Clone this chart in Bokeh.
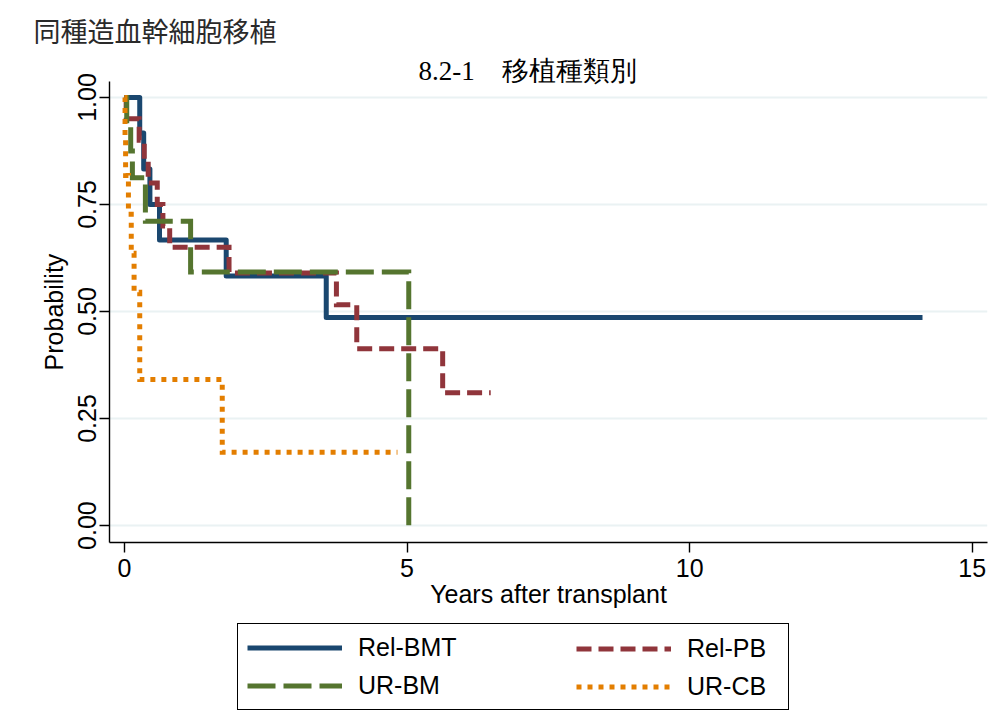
from bokeh.plotting import figure
from bokeh.layouts import column
from bokeh.models import Legend, LegendItem, Title, FixedTicker, Range1d
from bokeh.embed import file_html
from bokeh.resources import INLINE

# ---------------- data ----------------
series_names = ["Rel-BMT", "Rel-PB", "UR-BM", "UR-CB"]

rel_bmt_t = [0.0, 0.27, 0.34, 0.45, 0.62, 1.80, 3.57, 14.12]
rel_bmt_s = [1.0, 0.917, 0.833, 0.750, 0.667, 0.583, 0.486, 0.486]

rel_pb_t = [0.0, 0.03, 0.26, 0.35, 0.42, 0.58, 0.68, 0.80, 1.85, 3.75, 4.11, 5.63, 6.48]
rel_pb_s = [1.0, 0.95, 0.90, 0.85, 0.80, 0.75, 0.70, 0.65, 0.59, 0.516, 0.413, 0.31, 0.31]

ur_bm_t = [0.0, 0.04, 0.11, 0.14, 0.37, 1.17, 5.03]
ur_bm_s = [1.0, 0.9375, 0.875, 0.8125, 0.711, 0.592, 0.0]

ur_cb_t = [0.0, 0.01, 0.02, 0.07, 0.12, 0.17, 0.27, 1.73, 4.83]
ur_cb_s = [1.0, 0.909, 0.818, 0.727, 0.636, 0.545, 0.341, 0.171, 0.171]

x_ticks = [0, 5, 10, 15]
x_tick_labels = ["0", "5", "10", "15"]
y_ticks = [0.0, 0.25, 0.5, 0.75, 1.0]
y_tick_labels = ["0.00", "0.25", "0.50", "0.75", "1.00"]

main_title = "同種造血幹細胞移植"
sub_title = "8.2-1\u3000移植種類別"
x_title = "Years after transplant"
y_title = "Probability"

# ---------------- main figure ----------------
FONT = "Liberation Sans"
CJK = "Noto Sans CJK JP"
W = 998
p = figure(width=W, height=622, output_backend="svg", toolbar_location=None,
           title=main_title,
           x_range=Range1d(-0.265, 15.27), y_range=Range1d(-0.0396, 1.0373),
           min_border_left=109, min_border_right=11, min_border_top=80,
           min_border_bottom=80)
p.outline_line_color = None
p.background_fill_color = "white"
p.border_fill_color = "white"

p.title.align = "left"
p.title.offset = -76
p.title.standoff = 16
p.title.text_font = CJK
p.title.text_font_size = "27px"
p.title.text_font_style = "normal"
p.title.text_color = "#2a2a2a"

p.add_layout(Title(text=sub_title, align="left", offset=309, standoff=-8,
                   text_font="Liberation Serif", text_font_size="27px",
                   text_font_style="normal", text_color="black"), "above")

p.xgrid.grid_line_color = None
p.ygrid.grid_line_color = "#EAF2F3"
p.ygrid.grid_line_width = 2

p.xaxis.ticker = FixedTicker(ticks=x_ticks)
p.yaxis.ticker = FixedTicker(ticks=y_ticks)
p.xaxis.major_label_overrides = {t: l for t, l in zip(x_ticks, x_tick_labels)}
p.yaxis.major_label_overrides = {t: l for t, l in zip(y_ticks, y_tick_labels)}
p.yaxis.major_label_orientation = "vertical"

for ax in (p.xaxis, p.yaxis):
    ax.axis_line_color = "black"
    ax.axis_line_width = 1.4
    ax.major_tick_line_color = "black"
    ax.major_tick_line_width = 1.4
    ax.major_tick_out = 10
    ax.major_tick_in = 0
    ax.minor_tick_line_color = None
    ax.major_label_text_font = FONT
    ax.major_label_text_font_size = "25px"
    ax.major_label_text_color = "black"
    ax.axis_label_text_font = FONT
    ax.axis_label_text_font_size = "25px"
    ax.axis_label_text_font_style = "normal"
    ax.axis_label_text_color = "black"

p.xaxis.axis_label = x_title
p.yaxis.axis_label = y_title
p.xaxis.major_label_standoff = 6
p.yaxis.major_label_standoff = 3
p.xaxis.axis_label_standoff = 0
p.yaxis.axis_label_standoff = 8

colors = ["#1A476F", "#90353B", "#55752F", "#E37E00"]
dashes = ["solid", "15 7", "28 8", "5 6"]
data = [(rel_bmt_t, rel_bmt_s), (rel_pb_t, rel_pb_s), (ur_bm_t, ur_bm_s), (ur_cb_t, ur_cb_s)]

for (t, s), c, d in zip(data, colors, dashes):
    p.step(t, s, mode="after", line_color=c, line_width=5, line_dash=d,
           line_join="round" if d == "solid" else "miter", line_cap="butt")

# ---------------- legend strip (separate canvas below) ----------------
# the same series are drawn here out of view only to supply legend glyphs
pl = figure(width=W, height=91, output_backend="svg", toolbar_location=None,
            x_axis_type=None, y_axis_type=None,
            min_border_left=109, min_border_right=11, min_border_top=0,
            min_border_bottom=0,
            x_range=Range1d(100, 101), y_range=Range1d(100, 101))
pl.outline_line_color = None
pl.grid.visible = False
pl.background_fill_color = "white"
pl.border_fill_color = "white"

leg_r = []
for (t, s), c, d in zip(data, colors, dashes):
    leg_r.append(pl.step(t, s, mode="after", line_color=c, line_width=5,
                         line_dash=d, line_cap="butt"))

leg_common = dict(glyph_width=95, glyph_height=29, label_height=29, label_standoff=16,
                  label_text_font=FONT, label_text_font_size="25px",
                  label_text_color="black", spacing=9, padding=9, margin=0,
                  border_line_color="black", border_line_width=1.5,
                  background_fill_color="white")

legend1 = Legend(items=[LegendItem(label=series_names[0], renderers=[leg_r[0]]),
                        LegendItem(label=series_names[2], renderers=[leg_r[2]])],
                 location=(128, 3), label_width=421,
                 border_line_alpha=1.0, background_fill_alpha=1.0, **leg_common)
legend2 = Legend(items=[LegendItem(label=series_names[1], renderers=[leg_r[1]]),
                        LegendItem(label=series_names[3], renderers=[leg_r[3]])],
                 location=(458, 3), label_width=100,
                 border_line_alpha=0.0, background_fill_alpha=0.0, **leg_common)
pl.add_layout(legend1, "center")
pl.add_layout(legend2, "center")

layout = column(p, pl, spacing=0)
open("out.html", "w").write(file_html(layout, INLINE))
